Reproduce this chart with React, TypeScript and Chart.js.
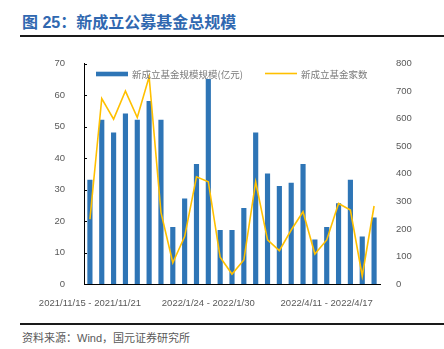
import React, { useEffect, useRef } from "react";
import { Chart, registerables } from "chart.js";

Chart.register(...registerables);

const weekLabels = [
  "2021/11/15 - 2021/11/21",
  "2021/11/22 - 2021/11/28",
  "2021/11/29 - 2021/12/5",
  "2021/12/6 - 2021/12/12",
  "2021/12/13 - 2021/12/19",
  "2021/12/20 - 2021/12/26",
  "2021/12/27 - 2022/1/2",
  "2022/1/3 - 2022/1/9",
  "2022/1/10 - 2022/1/16",
  "2022/1/17 - 2022/1/23",
  "2022/1/24 - 2022/1/30",
  "2022/2/7 - 2022/2/13",
  "2022/2/14 - 2022/2/20",
  "2022/2/21 - 2022/2/27",
  "2022/2/28 - 2022/3/6",
  "2022/3/7 - 2022/3/13",
  "2022/3/14 - 2022/3/20",
  "2022/3/21 - 2022/3/27",
  "2022/3/28 - 2022/4/3",
  "2022/4/4 - 2022/4/10",
  "2022/4/11 - 2022/4/17",
  "2022/4/18 - 2022/4/24",
  "2022/4/25 - 2022/5/1",
  "2022/5/2 - 2022/5/8",
  "2022/5/9 - 2022/5/15",
];

// 新成立基金规模(亿元)
const fundSize = [33, 52, 48, 54, 52, 58, 52, 18, 27, 38, 65, 17, 17, 24, 48, 35, 31, 32, 38, 14, 18, 25.5, 33, 15, 21];
// 新成立基金家数
const fundCount = [235, 673, 598, 700, 604, 752, 260, 77, 172, 389, 371, 97, 36, 87, 371, 160, 121, 196, 262, 109, 160, 292, 268, 29, 283];

const shownLabelIndexes = [0, 10, 20];

const sizeLegend = "新成立基金规模规模(亿元)";
const countLegend = "新成立基金家数";

const BAR_COLOR = "#2e75b6";
const LINE_COLOR = "#ffc000";

const legendAndTicksPlugin = {
  id: "customLegend",
  afterDraw(chart: any) {
    const ctx = chart.ctx;
    const area = chart.chartArea;
    const y = chart.scales.y;
    ctx.save();
    // inward tick marks on left axis
    ctx.strokeStyle = "#000";
    ctx.lineWidth = 1;
    y.ticks.forEach((t: any) => {
      const py = Math.round(y.getPixelForValue(t.value)) + 0.5;
      ctx.beginPath();
      ctx.moveTo(area.left, py);
      ctx.lineTo(area.left + 3, py);
      ctx.stroke();
    });
    // legend
    const ly = area.top + 10.5;
    ctx.font = '9.5px "Noto Sans CJK SC"';
    ctx.textBaseline = "middle";
    ctx.fillStyle = BAR_COLOR;
    ctx.fillRect(area.left + 12, ly - 2.3, 32, 4.6);
    ctx.fillStyle = "#7a7a7a";
    ctx.fillText(sizeLegend, area.left + 48, ly);
    ctx.strokeStyle = LINE_COLOR;
    ctx.lineWidth = 1.6;
    ctx.beginPath();
    ctx.moveTo(area.left + 181, ly - 0.5);
    ctx.lineTo(area.left + 213, ly - 0.5);
    ctx.stroke();
    ctx.fillText(countLegend, area.left + 217, ly);
    ctx.restore();
  },
};

export default function App() {
  const canvasRef = useRef<HTMLCanvasElement | null>(null);

  useEffect(() => {
    if (!canvasRef.current) return;
    const tickFont = { family: '"Liberation Sans", Arial, sans-serif', size: 9.5 };
    const chart = new Chart(canvasRef.current, {
      type: "bar",
      data: {
        labels: weekLabels,
        datasets: [
          {
            type: "bar",
            label: sizeLegend,
            data: fundSize,
            backgroundColor: BAR_COLOR,
            barThickness: 4.5,
            yAxisID: "y",
            order: 2,
          },
          {
            type: "line",
            label: countLegend,
            data: fundCount,
            borderColor: LINE_COLOR,
            backgroundColor: LINE_COLOR,
            borderWidth: 1.6,
            pointRadius: 0,
            tension: 0,
            yAxisID: "y1",
            order: 1,
          },
        ],
      },
      options: {
        responsive: false,
        animation: false,
        devicePixelRatio: 1,
        layout: { padding: { top: 23.5, left: 0, right: 0, bottom: 0 } },
        plugins: { legend: { display: false }, tooltip: { enabled: false } },
        scales: {
          x: {
            offset: true,
            grid: { display: false },
            border: { display: true, color: "#000", width: 1 },
            ticks: {
              autoSkip: false,
              maxRotation: 0,
              minRotation: 0,
              padding: 6,
              color: "#595959",
              font: tickFont,
              callback: (_v: any, i: number) => (shownLabelIndexes.includes(i) ? weekLabels[i] : ""),
            },
            afterFit: (s: any) => {
              s.height = 26;
            },
          },
          y: {
            position: "left",
            min: 0,
            max: 70,
            grid: { display: false },
            border: { display: true, color: "#000", width: 1 },
            ticks: { stepSize: 10, padding: 11, color: "#595959", font: tickFont },
            afterFit: (s: any) => {
              s.width = 84;
            },
          },
          y1: {
            position: "right",
            min: 0,
            max: 800,
            grid: { display: false },
            border: { display: false },
            ticks: { stepSize: 100, padding: 8, color: "#595959", font: tickFont },
            afterFit: (s: any) => {
              s.width = 64;
            },
          },
        },
      },
      plugins: [legendAndTicksPlugin],
    } as any);
    return () => chart.destroy();
  }, []);

  return (
    <div style={{ position: "absolute", left: 0, top: 0, width: 444, height: 349, background: "#fff", overflow: "hidden" }}>
      <div
        style={{
          position: "absolute",
          left: 22,
          top: 14,
          fontFamily: '"Liberation Sans", "Noto Sans CJK SC", sans-serif',
          fontWeight: "bold",
          fontSize: 16,
          lineHeight: "18px",
          color: "#3068b0",
          whiteSpace: "nowrap",
        }}
      >
        图 25：新成立公募基金总规模
      </div>
      <div style={{ position: "absolute", left: 20, top: 34.5, width: 424, height: 2, background: "#1a1a1a" }} />
      <canvas ref={canvasRef} width={444} height={270} style={{ position: "absolute", left: 0, top: 40 }} />
      <div style={{ position: "absolute", left: 20, top: 323, width: 424, height: 1.6, background: "#1a1a1a" }} />
      <div
        style={{
          position: "absolute",
          left: 22,
          top: 331,
          fontFamily: '"Liberation Sans", "Noto Sans CJK SC", sans-serif',
          fontSize: 11,
          lineHeight: "14px",
          color: "#595959",
          whiteSpace: "nowrap",
        }}
      >
        资料来源：Wind，国元证券研究所
      </div>
    </div>
  );
}
